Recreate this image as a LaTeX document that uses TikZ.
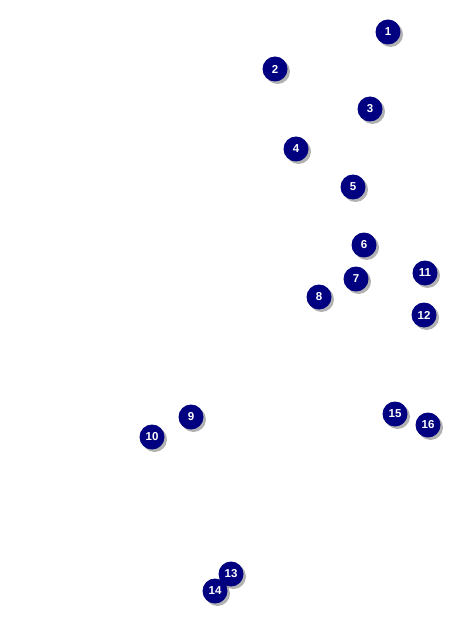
\documentclass[tikz,border=0pt]{standalone}
\usepackage{fontspec}
\setmainfont{Liberation Sans}
\usetikzlibrary{shadows}
\definecolor{navycol}{RGB}{0,0,128}

\begin{document}
\begin{tikzpicture}[x=1pt,y=-1pt,
  marker/.style={circle,fill=navycol,text=white,font=\bfseries\fontsize{11.5}{12}\selectfont,
    minimum size=25pt,inner sep=0pt,
    drop shadow={shadow xshift=2.5pt,shadow yshift=-2.5pt,fill=black,opacity=0.3}}]
\useasboundingbox (0,0) rectangle (468,636);
% numbered markers, top to bottom
\foreach \n/\x/\y in {1/388/32,2/275/69,3/370/109,4/296/149,5/353/187,6/364/245,
  7/356/279,8/319/297,11/425/273,12/424/315,9/191/417,10/152/437,
  15/395/414,16/428/425,13/231/574,14/215/591}
  \node[marker] (m\n) at (\x,\y) {\n};
\end{tikzpicture}
\end{document}
